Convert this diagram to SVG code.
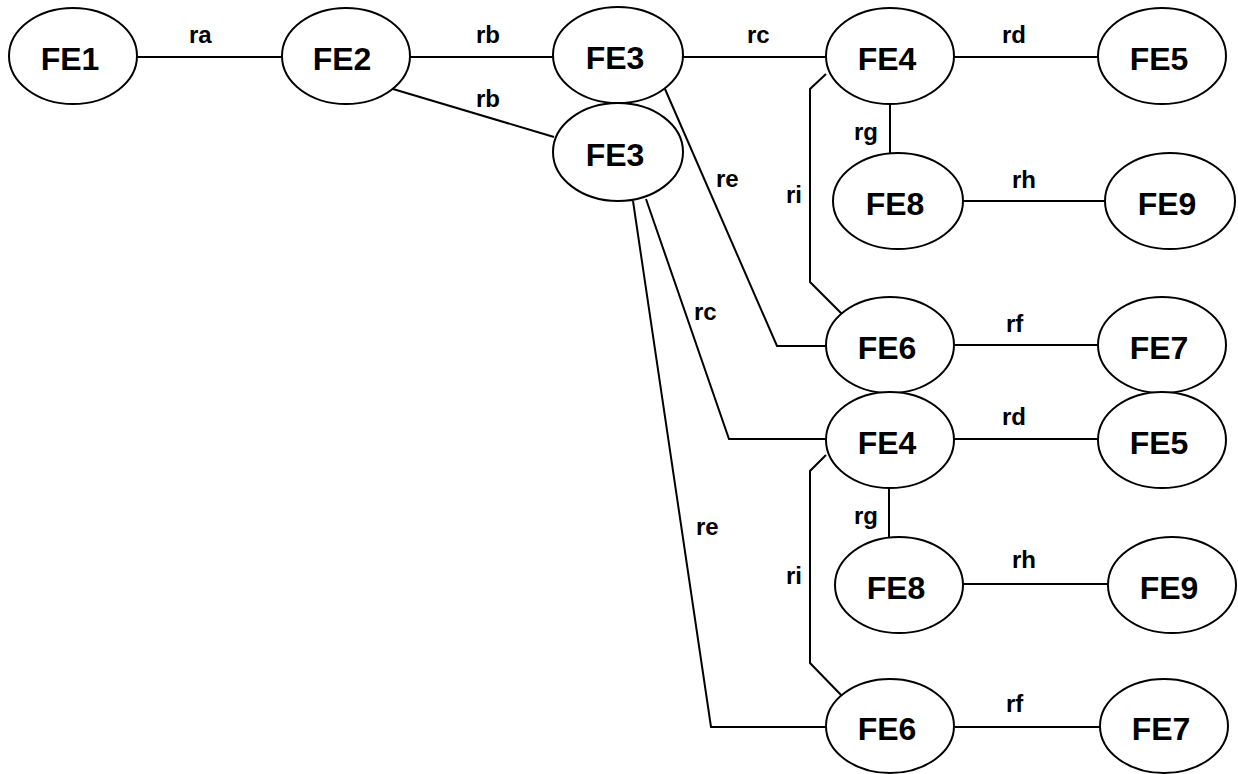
<svg xmlns="http://www.w3.org/2000/svg" width="1238" height="774" viewBox="0 0 1238 774">
<style>
.n ellipse{fill:#fff;stroke:#000;stroke-width:2}
.n text{font-family:"Liberation Sans",Arial,sans-serif;font-weight:bold;font-size:32px;text-anchor:middle;fill:#000}
#edges path{fill:none;stroke:#000;stroke-width:2}
#edges text{font-family:"Liberation Sans",Arial,sans-serif;font-weight:bold;font-size:24px;fill:#000}
</style>
<rect width="1238" height="774" fill="#fff"/>
<g id="edges">
<path d="M137,57H282"/>
<path d="M410,57H553"/>
<path d="M393,89L554,137"/>
<path d="M683,57H826"/>
<path d="M954,57H1098"/>
<path d="M890,104V154"/>
<path d="M963,201H1106"/>
<path d="M826,74L810,89V282L842,314"/>
<path d="M665,89L777,346H826"/>
<path d="M954,345H1098"/>
<path d="M646,199L729,439H826"/>
<path d="M633,201L711,727H826"/>
<path d="M954,439H1098"/>
<path d="M889,488V537"/>
<path d="M963,584H1108"/>
<path d="M826,455L810,471V663L843,697"/>
<path d="M955,727H1100"/>
<text x="189" y="43">ra</text>
<text x="476" y="43">rb</text>
<text x="476" y="107">rb</text>
<text x="747" y="43">rc</text>
<text x="1002" y="43">rd</text>
<text x="854" y="140">rg</text>
<text x="1012" y="188">rh</text>
<text x="786" y="203">ri</text>
<text x="716" y="187">re</text>
<text x="1006" y="332">rf</text>
<text x="694" y="320">rc</text>
<text x="1002" y="425">rd</text>
<text x="854" y="524">rg</text>
<text x="696" y="535">re</text>
<text x="1012" y="568">rh</text>
<text x="786" y="584">ri</text>
<text x="1006" y="712">rf</text>
</g>
<g id="fe1" class="n"><ellipse cx="73" cy="56" rx="64" ry="48"/><text x="70" y="70">FE1</text></g>
<g id="fe2" class="n"><ellipse cx="346" cy="56" rx="64" ry="48"/><text x="342" y="70">FE2</text></g>
<g id="fe3a" class="n"><ellipse cx="618" cy="55" rx="65" ry="48"/><text x="615" y="69">FE3</text></g>
<g id="fe3b" class="n"><ellipse cx="618" cy="152" rx="65" ry="49"/><text x="615" y="166">FE3</text></g>
<g id="fe4a" class="n"><ellipse cx="890" cy="56" rx="64" ry="48"/><text x="887" y="70">FE4</text></g>
<g id="fe5a" class="n"><ellipse cx="1162" cy="56" rx="64" ry="48"/><text x="1159" y="70">FE5</text></g>
<g id="fe8a" class="n"><ellipse cx="898" cy="201" rx="65" ry="48"/><text x="895" y="215">FE8</text></g>
<g id="fe9a" class="n"><ellipse cx="1170" cy="201" rx="65" ry="48"/><text x="1167" y="215">FE9</text></g>
<g id="fe6a" class="n"><ellipse cx="890" cy="345" rx="64" ry="48"/><text x="887" y="359">FE6</text></g>
<g id="fe7a" class="n"><ellipse cx="1162" cy="345" rx="64" ry="48"/><text x="1159" y="359">FE7</text></g>
<g id="fe4b" class="n"><ellipse cx="890" cy="440" rx="64" ry="48"/><text x="887" y="454">FE4</text></g>
<g id="fe5b" class="n"><ellipse cx="1162" cy="440" rx="64" ry="48"/><text x="1159" y="454">FE5</text></g>
<g id="fe8b" class="n"><ellipse cx="899" cy="585" rx="64" ry="48"/><text x="896" y="599">FE8</text></g>
<g id="fe9b" class="n"><ellipse cx="1172" cy="585" rx="64" ry="48"/><text x="1169" y="599">FE9</text></g>
<g id="fe6b" class="n"><ellipse cx="890" cy="726" rx="64" ry="47"/><text x="887" y="740">FE6</text></g>
<g id="fe7b" class="n"><ellipse cx="1164" cy="726" rx="64" ry="47"/><text x="1161" y="740">FE7</text></g>
</svg>
